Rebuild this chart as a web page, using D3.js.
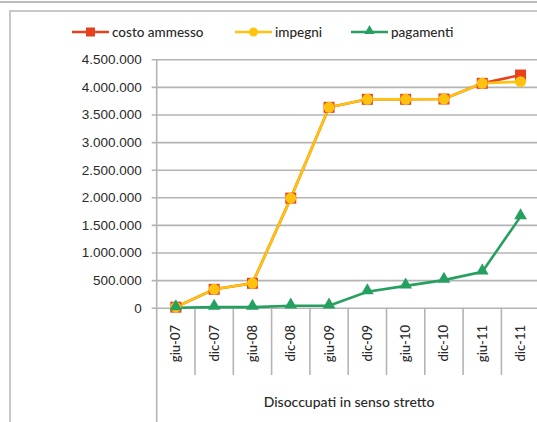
<!DOCTYPE html>
<html><head><meta charset="utf-8">
<script src="https://cdn.jsdelivr.net/npm/d3@7"></script>
<style>body{margin:0;background:#fff}svg{display:block;font-family:Lato,"Open Sans",sans-serif}</style>
</head><body><svg id="c" width="537" height="422"></svg>
<script>
const categories = ["giu-07","dic-07","giu-08","dic-08","giu-09","dic-09","giu-10","dic-10","giu-11","dic-11"];
const costoAmmesso = [10000,333000,442000,1985000,3630000,3775000,3775000,3780000,4065000,4215000];
const impegni      = [10000,333000,442000,1985000,3630000,3775000,3775000,3780000,4065000,4095000];
const pagamenti    = [0,10000,10000,35000,35000,290000,395000,500000,650000,1650000];
const yTicks = [0,500000,1000000,1500000,2000000,2500000,3000000,3500000,4000000,4500000];
const groupLabel = "Disoccupati in senso stretto";
const seriesNames = ["costo ammesso","impegni","pagamenti"];
const colors = ["#e8401c","#ffc20e","#26a060"];

const svg = d3.select("#c");
// outer frames
svg.append("rect").attr("x",-2).attr("y",-10).attr("width",541).attr("height",12).attr("fill","none").attr("stroke","#bdbdbd").attr("stroke-width",2);
svg.append("path").attr("d","M10,423V11H540").attr("fill","none").attr("stroke","#c8c8c8").attr("stroke-width",2);

const x = d3.scaleBand().domain(categories).range([156.7,539.7]).padding(0);
const y = d3.scaleLinear().domain([0,4500000]).range([307.7,59.3]);
const fmt = v => d3.format(",")(v).replace(/,/g,".");

// gridlines
const yAxis = d3.axisLeft(y).tickValues(yTicks).tickFormat(fmt).tickSize(-(537-151.7)).tickPadding(10);
const ga = svg.append("g").attr("transform","translate(151.7,0)").call(yAxis);
ga.select(".domain").remove();
ga.selectAll(".tick line").attr("x1",0).attr("x2",537-151.7).attr("stroke","#b4b4b4").attr("stroke-width",1.6);
ga.selectAll(".tick text").attr("x",-10).attr("fill","#2a2a2a").style("font-size","13.5px").style("font-weight","500");

// y axis line
svg.append("line").attr("x1",156.7).attr("x2",156.7).attr("y1",59.3).attr("y2",422).attr("stroke","#b4b4b4").attr("stroke-width",1.6);

// x axis category dividers
const bounds = categories.slice(1).map(c=>x(c)).concat([x(categories[categories.length-1])+x.bandwidth()]);
svg.append("g").selectAll("line").data(bounds).join("line")
  .attr("x1",d=>d).attr("x2",d=>d).attr("y1",307.7).attr("y2",375)
  .attr("stroke","#b4b4b4").attr("stroke-width",1.6);

// category labels
svg.append("g").selectAll("text").data(categories).join("text")
  .attr("transform",d=>`translate(${x(d)+x.bandwidth()/2+4.5},325) rotate(-90)`)
  .attr("text-anchor","end").attr("fill","#2a2a2a").style("font-size","13px").style("font-weight","500").text(d=>d);

svg.append("text").attr("x",349).attr("y",407).attr("text-anchor","middle").attr("fill","#2a2a2a")
  .style("font-size","14px").style("font-weight","500").text(groupLabel);

const cx = d => x(d)+x.bandwidth()/2;
const line = d3.line().x((d,i)=>cx(categories[i])).y(d=>y(d));
const data = [costoAmmesso, impegni, pagamenti];
const tri = d3.symbol().type(d3.symbolTriangle).size(70);

data.forEach((vals,s)=>{
  svg.append("path").attr("d",line(vals)).attr("fill","none").attr("stroke",colors[s]).attr("stroke-width",2.6);
});
data.forEach((vals,s)=>{
  const g = svg.append("g");
  vals.forEach((v,i)=>{
    const px = cx(categories[i]), py = y(v);
    if(s===0) g.append("rect").attr("x",px-5.5).attr("y",py-5.5).attr("width",11).attr("height",11).attr("fill",colors[0]);
    else if(s===1) g.append("circle").attr("cx",px).attr("cy",py).attr("r",5.5).attr("fill",colors[1]);
    else g.append("path").attr("d",tri).attr("transform",`translate(${px},${py-1})`).attr("fill",colors[2]);
  });
});

// legend
const legX = [72,235,351];
const lg = svg.append("g");
seriesNames.forEach((n,s)=>{
  const lx = legX[s], ly = 32;
  lg.append("line").attr("x1",lx).attr("x2",lx+37).attr("y1",ly).attr("y2",ly).attr("stroke",colors[s]).attr("stroke-width",2.6);
  if(s===0) lg.append("rect").attr("x",lx+18.5-4.5).attr("y",ly-4.5).attr("width",9).attr("height",9).attr("fill",colors[0]);
  else if(s===1) lg.append("circle").attr("cx",lx+18.5).attr("cy",ly).attr("r",4.5).attr("fill",colors[1]);
  else lg.append("path").attr("d",d3.symbol().type(d3.symbolTriangle).size(45)).attr("transform",`translate(${lx+18.5},${ly-1})`).attr("fill",colors[2]);
  lg.append("text").attr("x",lx+40).attr("y",ly+4.5).attr("fill","#2a2a2a").style("font-size","13.5px").style("font-weight","500").text(n);
});
</script></body></html>
